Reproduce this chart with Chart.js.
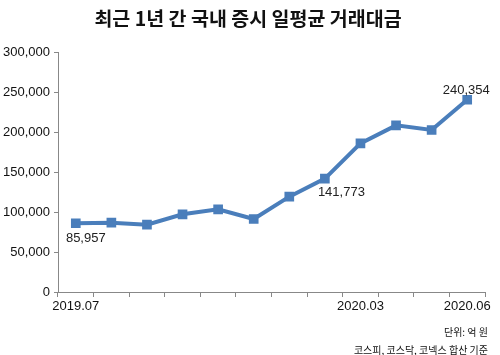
<!DOCTYPE html>
<html><head><meta charset="utf-8">
<script src="https://cdn.jsdelivr.net/npm/chart.js@4/dist/chart.umd.min.js"></script>
<style>html,body{margin:0;padding:0;background:#fff;}canvas{display:block;}</style>
</head><body>
<canvas id="c" width="500" height="355"></canvas>
<script>
const categories = ['2019.07','2019.08','2019.09','2019.10','2019.11','2019.12','2020.01','2020.02','2020.03','2020.04','2020.05','2020.06'];
const values = [85957, 86700, 84200, 97100, 103300, 91200, 119200, 141773, 185800, 208300, 202500, 240354];
const shownLabels = ['2019.07','2020.03','2020.06'];
const labelledPoints = [0, 7, 11];
const titleText = '최근 1년 간 국내 증시 일평균 거래대금';
const noteLines = ['단위: 억 원', '코스피, 코스닥, 코넥스 합산 기준'];
const yTicks = { min: 0, max: 300000, step: 50000 };

const fmt = v => v.toLocaleString('en-US');
const KFONT = '"Noto Sans CJK KR", sans-serif';
const NFONT = '"Liberation Sans", Arial, sans-serif';

const textPlugin = {
  id: 'texts',
  afterDraw(chart) {
    const ctx = chart.ctx;
    ctx.save();
    ctx.fillStyle = '#111';
    ctx.font = 'bold 19.5px ' + KFONT;
    ctx.textAlign = 'center';
    ctx.textBaseline = 'middle';
    ctx.fillText(titleText, 248, 19);
    ctx.font = '10px ' + KFONT;
    ctx.textAlign = 'right';
    ctx.fillText(noteLines[0], 488, 332);
    ctx.fillText(noteLines[1], 488, 350);
    // data labels
    const meta = chart.getDatasetMeta(0);
    ctx.font = '13px ' + NFONT;
    ctx.fillStyle = '#222';
    labelledPoints.forEach(i => {
      const p = meta.data[i];
      const txt = fmt(values[i]);
      if (i === 0) { ctx.textAlign = 'center'; ctx.fillText(txt, p.x + 10, p.y + 15); }
      else if (i === labelledPoints[1]) { ctx.textAlign = 'left'; ctx.fillText(txt, p.x - 7, p.y + 14); }
      else { ctx.textAlign = 'center'; ctx.fillText(txt, p.x - 1, p.y - 9); }
    });
    ctx.restore();
  }
};

new Chart(document.getElementById('c'), {
  type: 'line',
  data: {
    labels: categories,
    datasets: [{
      data: values,
      borderColor: '#4a7ebb',
      backgroundColor: '#4a7ebb',
      borderWidth: 4,
      pointStyle: 'rect',
      pointRadius: 4,
      pointHoverRadius: 4,
      tension: 0,
      fill: false
    }]
  },
  options: {
    responsive: false,
    animation: false,
    layout: { padding: { top: 52, right: 15, left: 0, bottom: 0 } },
    plugins: { legend: { display: false }, tooltip: { enabled: false }, title: { display: false } },
    scales: {
      x: {
        offset: true,
        grid: { display: true, drawOnChartArea: false, offset: true, tickLength: 5, color: '#888' },
        border: { display: true, color: '#888', width: 1 },
        ticks: {
          autoSkip: false, maxRotation: 0, padding: 2,
          color: '#111', font: { size: 13, family: NFONT },
          callback: function(v, i) { const l = categories[i]; return shownLabels.includes(l) ? l : ''; }
        },
        afterFit(s) { s.height = 63; }
      },
      y: {
        min: yTicks.min, max: yTicks.max,
        grid: { display: true, drawOnChartArea: false, tickLength: 4, color: '#888' },
        border: { display: true, color: '#888', width: 1 },
        ticks: {
          stepSize: yTicks.step, padding: 4,
          color: '#111', font: { size: 13, family: NFONT },
          callback: v => fmt(v)
        },
        afterFit(s) { s.width = 58; }
      }
    }
  },
  plugins: [textPlugin]
});
</script>
</body></html>
